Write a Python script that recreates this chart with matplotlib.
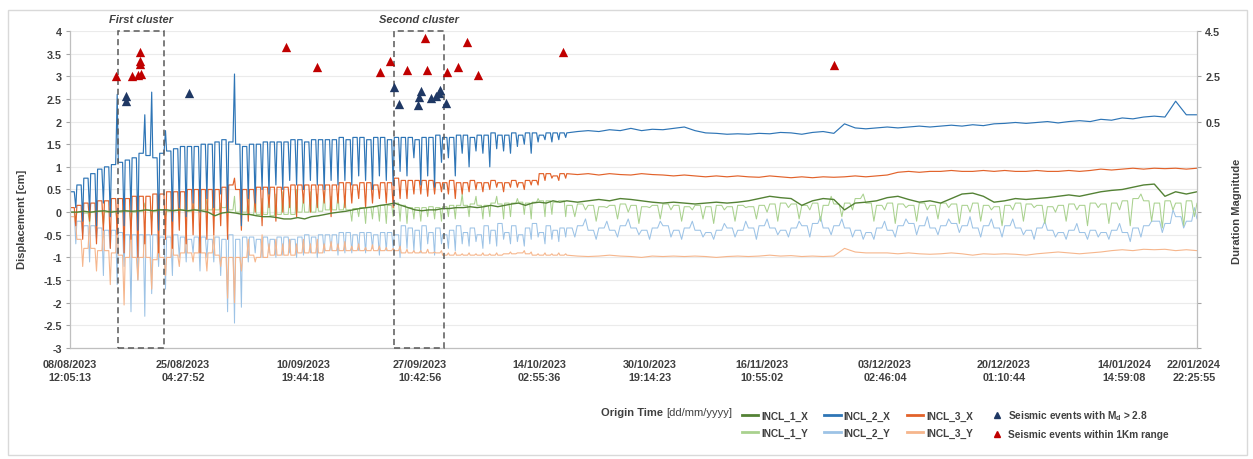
import numpy as np
import matplotlib
matplotlib.use("Agg")
import matplotlib.pyplot as plt
from matplotlib import font_manager
from matplotlib.patches import Rectangle
from matplotlib.lines import Line2D
from matplotlib.transforms import blended_transform_factory


def pick_font():
    for fam in ["Liberation Sans Narrow", "Arial Narrow", "Liberation Sans"]:
        try:
            font_manager.findfont(fam, fallback_to_default=False)
            return fam
        except ValueError:
            pass
    return "DejaVu Sans"


FONT = pick_font()
NARROW = "Narrow" in FONT
plt.rcParams["font.family"] = [FONT, "DejaVu Sans"]
plt.rcParams["mathtext.default"] = "regular"
FS_TICK = 9.5 if NARROW else 7.8
FS_LAB = 9.5 if NARROW else 8.0
FS_LEG = 9.0 if NARROW else 7.3

# ---- record index axis (samples) and its date labels
X_END = 1127
TICK_IDX = [0, 113, 233, 350, 469, 580, 692, 815, 934, 1054, 1124]
TICK_LABELS = ["08/08/2023\n12:05:13", "25/08/2023\n04:27:52", "10/09/2023\n19:44:18",
               "27/09/2023\n10:42:56", "14/10/2023\n02:55:36", "30/10/2023\n19:14:23",
               "16/11/2023\n10:55:02", "03/12/2023\n02:46:04", "20/12/2023\n01:10:44",
               "14/01/2024\n14:59:08", "22/01/2024\n22:25:55"]

# daily cycles in the first part of the record (72 days), then a smoother tail
CYCLE = 6.9

# ---- displacement [cm]: daily level (hi) and daily extreme (lo) for the first 72 days
incl2x_hi = [0.45, 0.60, 0.75, 0.85, 0.95, 1.00, 1.05, 1.10, 1.15, 1.20,
             1.30, 1.25, 1.20, 1.30, 1.35, 1.40, 1.45, 1.45, 1.45, 1.50,
             1.50, 1.55, 1.60, 1.55, 1.50, 1.45, 1.50, 1.50, 1.55, 1.55,
             1.55, 1.55, 1.60, 1.60, 1.55, 1.60, 1.60, 1.60, 1.60, 1.65,
             1.60, 1.65, 1.65, 1.60, 1.65, 1.65, 1.60, 1.65, 1.65, 1.65,
             1.60, 1.65, 1.65, 1.70, 1.65, 1.65, 1.70, 1.70, 1.65, 1.70,
             1.70, 1.75, 1.70, 1.70, 1.75, 1.70, 1.75, 1.75, 1.70, 1.75, 1.75, 1.75]
incl2x_lo = [0.10, -0.20, 0.00, -0.30, 0.20, -0.10, 2.60, -0.30, 0.00, -0.40,
             2.15, 2.65, -0.40, 1.80, -0.20, 0.10, -0.10, 0.20, 0.00, 0.30,
             0.10, 0.40, 0.00, 3.05, -0.30, 0.30, 0.20, 0.50, 0.40, 0.60,
             0.50, 0.70, 0.60, 0.50, 0.70, 0.60, 0.50, 0.70, 0.60, 0.70,
             0.60, 0.80, 0.70, 0.50, 0.80, 0.70, 0.60, 0.90, 0.80, 1.20,
             0.60, 0.80, 0.55, 1.10, 1.20, 0.80, 1.30, 1.00, 1.35, 1.30,
             1.00, 1.40, 1.35, 1.30, 1.45, 1.50, 1.30, 1.55, 1.60, 1.55, 1.60, 1.65]
incl3x_hi = [0.10, 0.15, 0.20, 0.20, 0.25, 0.25, 0.30, 0.30, 0.30, 0.35,
             0.35, 0.35, 0.40, 0.40, 0.45, 0.45, 0.45, 0.50, 0.50, 0.50,
             0.50, 0.50, 0.55, 0.60, 0.50, 0.50, 0.50, 0.55, 0.55, 0.55,
             0.55, 0.55, 0.60, 0.60, 0.60, 0.60, 0.60, 0.60, 0.60, 0.65,
             0.65, 0.60, 0.65, 0.65, 0.60, 0.65, 0.65, 0.75, 0.70, 0.70,
             0.70, 0.70, 0.70, 0.65, 0.65, 0.70, 0.65, 0.65, 0.70, 0.65,
             0.65, 0.70, 0.65, 0.65, 0.70, 0.65, 0.70, 0.70, 0.85, 0.85, 0.80, 0.85]
incl3x_lo = [-0.30, -0.60, -0.20, -0.70, -0.40, -0.80, -0.50, -0.90, -0.60, -1.00,
             -0.70, -0.50, -0.90, -0.60, -0.80, -0.40, -0.70, -0.50, -0.90, -0.60,
             -0.50, -0.30, -0.60, 0.75, -0.40, -0.20, 0.00, -0.30, 0.10, -0.20,
             0.00, 0.10, -0.10, 0.20, 0.00, 0.10, 0.20, -0.10, 0.20, 0.10,
             0.20, 0.30, 0.10, 0.20, 0.30, 0.20, 0.10, 0.30, 0.30, 0.40,
             0.40, 0.35, 0.40, 0.45, 0.40, 0.30, 0.40, 0.45, 0.50, 0.45,
             0.50, 0.55, 0.45, 0.55, 0.55, 0.50, 0.60, 0.60, 0.70, 0.75, 0.70, 0.75]
incl3y_hi = [-0.10, -0.60, -0.80, -0.80, -0.85, -0.85, -0.90, -0.95, -1.00, -1.00,
             -1.00, -1.00, -1.05, -1.00, -1.00, -0.95, -0.90, -0.90, -0.90, -0.90,
             -0.90, -0.95, -1.00, -1.00, -1.00, -1.00, -0.95, -1.00, -1.00, -0.95,
             -0.95, -0.95, -0.95, -0.90, -0.90, -0.90, -0.90, -0.85, -0.85, -0.85,
             -0.85, -0.85, -0.85, -0.85, -0.85, -0.85, -0.85, -0.85, -0.90, -0.90,
             -0.90, -0.90, -0.90, -0.90, -0.95, -0.95, -0.95, -0.95, -0.95, -0.95,
             -0.95, -0.95, -0.95, -0.92, -0.92, -0.90, -0.92, -0.95, -0.95, -0.95, -0.95, -0.95]
incl3y_lo = [-0.30, -1.20, -0.20, -1.30, -0.30, -1.60, -0.20, -2.05, -0.40, -1.50,
             -0.30, -1.70, -0.50, -1.40, -0.40, -1.20, -0.30, -1.10, -0.40, -1.30,
             -0.50, -1.20, -1.90, -2.00, -1.30, -0.60, -1.10, -0.50, -0.70, -0.60,
             -0.70, -0.60, -0.70, -0.60, -0.70, -0.60, -0.70, -0.65, -0.70, -0.65,
             -0.75, -0.70, -0.78, -0.72, -0.75, -0.78, -0.80, -0.75, -0.82, -0.85,
             -0.85, -0.82, -0.88, -0.85, -0.90, -0.88, -0.92, -0.90, -0.92, -0.90,
             -0.92, -0.90, -0.92, -0.88, -0.90, -0.85, -0.88, -0.92, -0.90, -0.92, -0.90, -0.92]
incl2y_hi = [0.00, -0.20, -0.30, -0.30, -0.35, -0.40, -0.40, -0.45, -0.50, -0.50,
             -0.50, -0.50, -0.50, -0.55, -0.55, -0.50, -0.55, -0.60, -0.55, -0.55,
             -0.60, -0.55, -0.60, -0.50, -0.60, -0.55, -0.55, -0.60, -0.55, -0.60,
             -0.55, -0.55, -0.60, -0.55, -0.50, -0.55, -0.50, -0.50, -0.50, -0.45,
             -0.45, -0.50, -0.45, -0.45, -0.50, -0.45, -0.45, -0.50, -0.30, -0.35,
             -0.40, -0.30, -0.45, -0.35, -0.50, -0.40, -0.30, -0.45, -0.35, -0.50,
             -0.30, -0.40, -0.25, -0.45, -0.30, -0.50, -0.35, -0.25, -0.45, -0.30, -0.40, -0.35]
incl2y_lo = [-0.70, -0.50, -1.10, -0.60, -1.40, -0.80, -1.60, -1.20, -2.20, -1.50,
             -2.30, -1.80, -1.20, -1.70, -1.40, -1.00, -1.10, -0.90, -1.30, -1.00,
             -1.10, -1.40, -2.20, -2.45, -2.10, -1.10, -0.90, -1.00, -0.90, -1.00,
             -0.95, -0.90, -1.00, -0.95, -0.90, -1.00, -0.90, -0.85, -0.95, -0.90,
             -0.90, -0.85, -0.90, -0.80, -0.95, -0.85, -0.80, -1.00, -0.80, -0.85,
             -0.90, -0.70, -0.95, -0.70, -0.80, -0.85, -0.70, -0.75, -0.65, -0.80,
             -0.70, -0.75, -0.60, -0.70, -0.65, -0.75, -0.60, -0.55, -0.70, -0.60, -0.65, -0.55]
incl1x_hi = [0.00, 0.00, 0.02, 0.00, 0.02, 0.03, 0.00, 0.02, 0.03, 0.02,
             0.03, 0.05, 0.03, 0.05, 0.05, 0.03, 0.05, 0.03, 0.05, 0.03,
             0.00, -0.08, -0.02, 0.00, -0.02, -0.05, -0.05, -0.08, -0.10, -0.10,
             -0.12, -0.15, -0.15, -0.12, -0.15, -0.10, -0.08, -0.05, -0.02, 0.00,
             0.02, 0.05, 0.08, 0.10, 0.12, 0.15, 0.17, 0.20, 0.15, 0.10,
             0.05, 0.03, 0.05, 0.05, 0.08, 0.08, 0.10, 0.10, 0.12, 0.10,
             0.12, 0.15, 0.12, 0.15, 0.18, 0.20, 0.15, 0.20, 0.22, 0.20, 0.25, 0.22]
incl1y_hi = [0.00, 0.00, -0.02, 0.00, 0.02, 0.00, 0.02, 0.00, 0.02, 0.00,
             0.02, 0.05, 0.02, 0.05, 0.02, 0.05, 0.05, 0.02, 0.05, 0.05,
             0.05, 0.05, 0.10, 0.05, 0.00, 0.00, -0.05, -0.05, -0.05, -0.08,
             -0.05, -0.05, -0.05, 0.00, 0.00, 0.00, 0.02, 0.05, 0.05, 0.05,
             0.05, 0.08, 0.10, 0.10, 0.12, 0.15, 0.15, 0.20, 0.15, 0.10,
             0.10, 0.10, 0.12, 0.10, 0.12, 0.15, 0.15, 0.15, 0.18, 0.15,
             0.15, 0.20, 0.18, 0.20, 0.20, 0.22, 0.20, 0.22, 0.25, 0.25, 0.22, 0.25]
incl1y_lo = [-0.20, 0.10, -0.25, 0.15, -0.30, 0.10, -0.20, 0.20, -0.30, 0.10,
             0.20, -0.20, 0.30, -0.10, 0.35, 0.10, 0.40, 0.20, 0.45, 0.30,
             0.45, 0.20, 0.50, 0.35, 0.45, 0.40, 0.45, 0.30, 0.45, 0.40,
             0.45, 0.35, 0.50, 0.40, 0.45, 0.40, 0.45, 0.35, 0.40, 0.30,
             -0.20, -0.10, -0.25, -0.15, -0.20, -0.25, -0.10, -0.20, -0.25, -0.15,
             -0.20, -0.10, -0.15, -0.20, -0.10, -0.15, 0.40, -0.10, 0.35, -0.15,
             -0.10, 0.35, -0.15, -0.10, 0.30, -0.05, -0.15, 0.30, -0.10, -0.05, 0.25, -0.10]

# ---- tail of the record (60 readings up to 22/01/2024)
incl2x_tail = [1.75, 1.78, 1.80, 1.78, 1.82, 1.80, 1.85, 1.80, 1.83, 1.82,
               1.85, 1.88, 1.80, 1.75, 1.74, 1.72, 1.73, 1.72, 1.74, 1.73,
               1.76, 1.75, 1.72, 1.76, 1.78, 1.74, 1.95, 1.86, 1.84, 1.86,
               1.88, 1.86, 1.88, 1.90, 1.88, 1.90, 1.92, 1.90, 1.93, 1.91,
               1.95, 1.96, 1.98, 1.96, 1.98, 2.00, 1.97, 2.00, 2.02, 2.00,
               2.05, 2.03, 2.08, 2.06, 2.10, 2.12, 2.10, 2.45, 2.15, 2.15]
incl3x_tail = [0.85, 0.83, 0.85, 0.82, 0.85, 0.83, 0.82, 0.85, 0.83, 0.82,
               0.80, 0.82, 0.80, 0.78, 0.80, 0.78, 0.80, 0.78, 0.77, 0.80,
               0.78, 0.76, 0.78, 0.76, 0.78, 0.77, 0.78, 0.80, 0.78, 0.80,
               0.82, 0.88, 0.90, 0.88, 0.90, 0.90, 0.92, 0.90, 0.90, 0.92,
               0.90, 0.92, 0.90, 0.90, 0.92, 0.90, 0.90, 0.92, 0.90, 0.92,
               0.95, 0.93, 0.95, 0.97, 0.95, 0.97, 0.96, 0.97, 0.95, 0.97]
incl3y_tail = [-0.95, -0.97, -0.98, -0.97, -0.95, -0.97, -0.98, -1.00, -0.97, -0.98,
               -0.97, -0.98, -0.97, -0.98, -1.00, -0.98, -0.97, -0.98, -0.97, -0.95,
               -0.97, -0.96, -0.98, -0.97, -0.98, -0.97, -0.80, -0.88, -0.90, -0.90,
               -0.90, -0.92, -0.90, -0.92, -0.93, -0.92, -0.90, -0.92, -0.95, -0.92,
               -0.93, -0.92, -0.93, -0.95, -0.92, -0.90, -0.88, -0.90, -0.92, -0.90,
               -0.88, -0.85, -0.83, -0.85, -0.82, -0.83, -0.82, -0.85, -0.83, -0.85]
incl2y_tail = [-0.35, -0.30, -0.40, -0.35, -0.40, -0.30, -0.35, -0.40, -0.35, -0.30,
               -0.40, -0.35, -0.40, -0.45, -0.40, -0.35, -0.40, -0.35, -0.30, -0.35,
               -0.40, -0.35, -0.30, -0.25, -0.35, -0.30, -0.35, -0.40, -0.45, -0.35,
               -0.40, -0.30, -0.25, -0.30, -0.35, -0.30, -0.25, -0.30, -0.35, -0.30,
               -0.35, -0.30, -0.35, -0.40, -0.35, -0.40, -0.45, -0.40, -0.45, -0.40,
               -0.45, -0.40, -0.45, -0.35, -0.30, -0.20, -0.25, -0.10, -0.20, -0.15]
incl2y_tail_ext = [-0.55, -0.15, -0.60, -0.20, -0.55, -0.15, -0.50, -0.60, -0.20, -0.55,
                   -0.60, -0.20, -0.55, -0.60, -0.25, -0.55, -0.20, -0.60, -0.15, -0.50,
                   -0.55, -0.20, -0.55, -0.10, -0.50, -0.15, -0.55, -0.60, -0.60, -0.20,
                   -0.55, -0.15, -0.50, -0.10, -0.50, -0.15, -0.45, -0.10, -0.55, -0.15,
                   -0.55, -0.15, -0.50, -0.60, -0.20, -0.55, -0.60, -0.25, -0.60, -0.55,
                   -0.60, -0.25, -0.65, -0.55, -0.20, -0.45, 0.05, -0.35, 0.10, -0.30]
incl1x_tail = [0.25, 0.22, 0.25, 0.28, 0.25, 0.30, 0.28, 0.25, 0.22, 0.20,
               0.22, 0.20, 0.18, 0.20, 0.22, 0.20, 0.22, 0.25, 0.30, 0.35,
               0.32, 0.30, 0.15, 0.25, 0.30, 0.28, 0.05, 0.20, 0.22, 0.25,
               0.32, 0.35, 0.28, 0.22, 0.25, 0.20, 0.30, 0.40, 0.42, 0.35,
               0.22, 0.25, 0.30, 0.28, 0.30, 0.32, 0.35, 0.38, 0.35, 0.40,
               0.45, 0.48, 0.50, 0.55, 0.60, 0.62, 0.35, 0.45, 0.40, 0.45]
incl1y_tail = [0.15, 0.18, 0.15, 0.12, 0.15, 0.18, 0.15, 0.12, 0.15, 0.18,
               0.15, 0.12, 0.15, 0.12, 0.15, 0.12, 0.15, 0.12, 0.15, 0.18,
               0.20, 0.18, 0.15, 0.20, 0.15, 0.18, 0.20, 0.30, 0.20, 0.15,
               0.20, 0.18, 0.15, 0.20, 0.15, 0.20, 0.18, 0.15, 0.20, 0.15,
               0.12, 0.15, 0.20, 0.18, 0.15, 0.12, 0.15, 0.18, 0.15, 0.20,
               0.18, 0.20, 0.25, 0.30, 0.25, 0.20, 0.25, 0.20, 0.25, 0.20]
incl1y_tail_ext = [-0.10, 0.05, -0.20, 0.10, -0.15, 0.00, -0.25, 0.10, -0.15, 0.05,
                   -0.20, 0.05, -0.15, -0.25, 0.05, -0.20, 0.10, -0.15, 0.00, -0.20,
                   0.10, -0.15, 0.05, -0.20, 0.35, -0.10, 0.05, 0.40, -0.20, 0.05,
                   -0.25, 0.10, -0.20, 0.05, -0.15, 0.10, -0.25, 0.00, -0.20, 0.05,
                   -0.30, 0.05, -0.20, 0.10, -0.25, 0.00, -0.20, 0.05, -0.30, 0.10,
                   -0.25, 0.05, -0.30, 0.40, -0.20, -0.35, 0.05, -0.30, -0.10, 0.05]

# ---- seismic events (record index, duration magnitude)
near_idx = [46, 62, 68, 71, 70, 70, 70, 216, 247, 310, 320, 337, 355, 357, 377, 388, 397, 408, 493, 764]
near_mag = [2.51, 2.51, 2.56, 2.60, 3.04, 3.17, 3.57, 3.79, 2.91, 2.69, 3.17, 2.78, 4.19, 2.78,
            2.69, 2.91, 4.01, 2.56, 3.57, 3.00]
big_idx = [56, 56, 119, 324, 329, 348, 349, 351, 361, 366, 369, 370, 376]
big_mag = [1.63, 1.41, 1.76, 2.03, 1.28, 1.23, 1.58, 1.85, 1.54, 1.63, 1.76, 1.89, 1.32]

# ---- clusters (record index spans)
clusters = [("First cluster", 48, 94), ("Second cluster", 324, 374)]

SERIES = [
    ("INCL_2_Y", "#9DC3E6", 0.75, incl2y_hi, incl2y_lo, incl2y_tail, incl2y_tail_ext),
    ("INCL_3_Y", "#F6B68C", 0.8, incl3y_hi, incl3y_lo, incl3y_tail, None),
    ("INCL_1_Y", "#A9D18E", 0.75, incl1y_hi, incl1y_lo, incl1y_tail, incl1y_tail_ext),
    ("INCL_3_X", "#E2622A", 0.85, incl3x_hi, incl3x_lo, incl3x_tail, None),
    ("INCL_2_X", "#2E75B6", 0.85, incl2x_hi, incl2x_lo, incl2x_tail, None),
    ("INCL_1_X", "#548235", 1.0, incl1x_hi, None, incl1x_tail, None),
]


def spiky(x0s, step, level, ext, a, b):
    # each reading: level, then a short excursion to its extreme value
    xs, ys = [], []
    for i, x0 in enumerate(x0s):
        if ext is None:
            xs.append(x0)
            ys.append(level[i])
        else:
            xs += [x0, x0 + a * step, x0 + b * step]
            ys += [level[i], level[i], ext[i]]
    return xs, ys


def build_line(hi, lo, tail, tail_ext):
    x_early = np.arange(len(hi)) * CYCLE
    xs, ys = spiky(x_early, CYCLE, hi, lo, 0.62, 0.84)
    x_tail = np.linspace(len(hi) * CYCLE, X_END, len(tail))
    xt, yt = spiky(x_tail, x_tail[1] - x_tail[0], tail, tail_ext, 0.5, 0.75)
    return np.array(xs + xt), np.array(ys + yt)


W, H = 1253, 460
fig = plt.figure(figsize=(W / 100, H / 100), dpi=100)
ax = fig.add_axes([70 / W, 1 - 349 / H, 1127 / W, 317 / H])

for name, col, lw, hi, lo, tail, tail_ext in SERIES:
    x, y = build_line(hi, lo, tail, tail_ext)
    ax.plot(x, y, color=col, lw=lw, zorder=2)

ax.set_xlim(0, X_END)
ax.set_ylim(-3, 4)
ax.set_yticks(np.arange(-3, 4.01, 0.5))
ax.set_yticklabels([f"{v:g}" for v in np.arange(-3, 4.01, 0.5)])
ax.set_xticks(TICK_IDX)
ax.set_xticklabels(TICK_LABELS, fontsize=FS_TICK, fontweight="bold", color="#404040",
                   linespacing=1.35)
ax.tick_params(axis="x", length=0, pad=8)
ax.tick_params(axis="y", length=3, width=0.8, color="#a6a6a6", pad=3,
               labelsize=FS_TICK, labelcolor="#404040")
for t in ax.get_yticklabels():
    t.set_fontweight("bold")
ax.yaxis.grid(True, color="#ebebeb", lw=0.8)
ax.set_axisbelow(True)
for s in ["top", "right"]:
    ax.spines[s].set_visible(False)
for s in ["left", "bottom"]:
    ax.spines[s].set_color("#bfbfbf")
    ax.spines[s].set_linewidth(0.9)

ax.set_ylabel("Displacement [cm]", fontsize=FS_LAB, fontweight="bold", color="#404040")
ax.yaxis.set_label_coords(-0.038, 0.41)

# cluster boxes
trans = blended_transform_factory(ax.transData, ax.transAxes)
for label, x0, x1 in clusters:
    ax.add_patch(Rectangle((x0, -3), x1 - x0, 7, fill=False, ls=(0, (4, 2.5)),
                           lw=1.1, ec="#595959", zorder=5, clip_on=False))
    ax.text((x0 + x1) / 2, 1.038, label, transform=trans, ha="center", va="center",
            fontsize=FS_LAB, fontweight="bold", style="italic", color="#404040")

# secondary axis: duration magnitude
ax2 = ax.twinx()
ax2.set_ylim(-9.5, 4.5)
rt = np.arange(-9.5, 4.51, 2)
ax2.set_yticks(rt)
ax2.set_yticklabels([f"{v:g}" if v > 0 else "" for v in rt])
ax2.tick_params(axis="y", length=3, width=0.8, color="#a6a6a6", pad=3,
                labelsize=FS_TICK, labelcolor="#404040")
for t in ax2.get_yticklabels():
    t.set_fontweight("bold")
for s in ["top", "left", "bottom"]:
    ax2.spines[s].set_visible(False)
ax2.spines["right"].set_color("#bfbfbf")
ax2.spines["right"].set_linewidth(0.9)
ax2.set_ylabel("Duration Magnitude", fontsize=FS_LAB, fontweight="bold", color="#404040")
ax2.yaxis.set_label_coords(1.031, 0.435)

ax2.scatter(near_idx, near_mag, marker="^", s=45, color="#C00000", lw=0, zorder=6)
ax2.scatter(big_idx, big_mag, marker="^", s=45, color="#1F3864", lw=0, zorder=6)

# axis title below dates
fig.text(663 / W, 1 - 413 / H, "Origin Time", ha="right", va="center",
         fontsize=FS_LAB, fontweight="bold", color="#404040")
fig.text(666 / W, 1 - 413 / H, "[dd/mm/yyyy]", ha="left", va="center",
         fontsize=FS_LAB, color="#404040")

# legend
col = {s[0]: s[1] for s in SERIES}
handles = [
    Line2D([], [], color=col["INCL_1_X"], lw=2), Line2D([], [], color=col["INCL_1_Y"], lw=2),
    Line2D([], [], color=col["INCL_2_X"], lw=2), Line2D([], [], color=col["INCL_2_Y"], lw=2),
    Line2D([], [], color=col["INCL_3_X"], lw=2), Line2D([], [], color=col["INCL_3_Y"], lw=2),
    Line2D([], [], ls="", marker="^", ms=4, color="#1F3864"),
    Line2D([], [], ls="", marker="^", ms=4, color="#C00000"),
]
labels = ["INCL_1_X", "INCL_1_Y", "INCL_2_X", "INCL_2_Y", "INCL_3_X", "INCL_3_Y",
          "Seismic events with M$_d$ > 2.8", "Seismic events within 1Km range"]
leg = fig.legend(handles, labels, ncol=4, loc="center left",
                 bbox_to_anchor=(742 / W, 1 - 425 / H), frameon=False,
                 prop={"size": FS_LEG, "weight": "bold"}, handlelength=1.6,
                 handletextpad=0.3, columnspacing=1.6, labelspacing=0.7,
                 borderaxespad=0, borderpad=0)
for t in leg.get_texts():
    t.set_color("#404040")

# outer frame
fig.patches.append(Rectangle((8 / W, 4 / H), 1239 / W, 445 / H, transform=fig.transFigure,
                             fill=False, ec="#d9d9d9", lw=1.0))

fig.savefig("out.png", dpi=100)
